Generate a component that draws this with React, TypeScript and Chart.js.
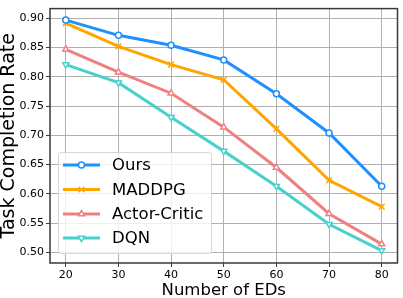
import React, { useEffect, useRef } from "react";
import { Chart, registerables } from "chart.js";
import { drawPoint } from "chart.js/helpers";

Chart.register(...registerables);

const categories = [20, 30, 40, 50, 60, 70, 80];
const oursValues = [0.897, 0.871, 0.854, 0.829, 0.771, 0.704, 0.613];
const maddpgValues = [0.892, 0.852, 0.821, 0.795, 0.711, 0.623, 0.578];
const actorCriticValues = [0.847, 0.808, 0.772, 0.714, 0.645, 0.566, 0.514];
const dqnValues = [0.821, 0.79, 0.731, 0.673, 0.613, 0.548, 0.503];
const seriesNames = ["Ours", "MADDPG", "Actor-Critic", "DQN"];
const xTicks = [20, 30, 40, 50, 60, 70, 80];
const yTicks = [0.5, 0.55, 0.6, 0.65, 0.7, 0.75, 0.8, 0.85, 0.9];

const FONT = '"DejaVu Sans", sans-serif';

const legendPlugin = {
  id: "insideLegend",
  afterDraw(chart: any) {
    const ctx = chart.ctx;
    const x0 = 58, y0 = 152, w = 153, h = 101;
    ctx.save();
    ctx.beginPath();
    if (ctx.roundRect) ctx.roundRect(x0 + 0.5, y0 + 0.5, w, h, 3);
    else ctx.rect(x0 + 0.5, y0 + 0.5, w, h);
    ctx.fillStyle = "rgba(255,255,255,0.8)";
    ctx.fill();
    ctx.strokeStyle = "#d6d6d6";
    ctx.lineWidth = 1;
    ctx.stroke();
    const rows = [165, 189.5, 214, 238];
    chart.data.datasets.forEach((ds: any, i: number) => {
      const y = rows[i];
      ctx.beginPath();
      ctx.moveTo(63, y);
      ctx.lineTo(100, y);
      ctx.strokeStyle = ds.borderColor;
      ctx.lineWidth = 3;
      ctx.stroke();
      ctx.fillStyle = "#ffffff";
      ctx.strokeStyle = ds.borderColor;
      ctx.lineWidth = ds.pointBorderWidth;
      drawPoint(ctx, { pointStyle: ds.pointStyle, rotation: ds.pointRotation || 0, radius: ds.pointRadius, borderWidth: ds.pointBorderWidth }, 81.5, y);
      ctx.fillStyle = "#000";
      ctx.font = `16.5px ${FONT}`;
      ctx.textBaseline = "middle";
      ctx.textAlign = "left";
      ctx.fillText(ds.label, 112, y + 1);
    });
    ctx.restore();
  },
};

const framePlugin = {
  id: "frame",
  afterDatasetsDraw(chart: any) {
    const { ctx, chartArea } = chart;
    ctx.save();
    ctx.strokeStyle = "#3a3a3a";
    ctx.lineWidth = 1.5;
    ctx.strokeRect(chartArea.left, chartArea.top, chartArea.right - chartArea.left, chartArea.bottom - chartArea.top);
    ctx.restore();
  },
};

function toPoints(vals: number[]) {
  return categories.map((c, i) => ({ x: c, y: vals[i] }));
}

export default function App() {
  const ref = useRef<HTMLCanvasElement | null>(null);
  useEffect(() => {
    document.body.style.margin = "0";
    const colors = ["#1E90FF", "#FFA500", "#F08080", "#48D1CC"];
    const styles = ["circle", "crossRot", "triangle", "triangle"];
    const rots = [0, 0, 0, 180];
    const radii = [3, 4, 3.5, 3.5];
    const vals = [oursValues, maddpgValues, actorCriticValues, dqnValues];
    const chart = new Chart(ref.current as HTMLCanvasElement, {
      type: "line",
      data: {
        datasets: vals.map((v, i) => ({
          label: seriesNames[i],
          data: toPoints(v),
          borderColor: colors[i],
          backgroundColor: colors[i],
          borderWidth: 3,
          pointStyle: styles[i] as any,
          pointRotation: rots[i],
          pointRadius: radii[i],
          pointBorderWidth: 1.5,
          pointBackgroundColor: "#ffffff",
          pointBorderColor: colors[i],
          tension: 0,
        })),
      },
      options: {
        animation: false,
        responsive: false,
        maintainAspectRatio: false,
        layout: { padding: { top: 2, right: 2, left: 0, bottom: 0 } },
        plugins: { legend: { display: false }, tooltip: { enabled: false } },
        scales: {
          x: {
            type: "linear",
            min: 17,
            max: 83,
            afterBuildTicks: (s: any) => {
              s.ticks = xTicks.map((v) => ({ value: v }));
            },
            afterFit: (s: any) => {
              s.height = 35;
            },
            ticks: {
              font: { family: FONT, size: 11 },
              color: "#000",
              padding: 2,
              maxRotation: 0,
              callback: (v: any) => String(v),
            },
            grid: { color: "#b0b0b0", lineWidth: 1, tickLength: 4, tickColor: "#3a3a3a" },
            border: { display: false },
            title: {
              display: true,
              text: "Number of EDs",
              font: { family: FONT, size: 16.5, lineHeight: 1 },
              color: "#000",
              padding: { top: 0, bottom: -1 },
            },
          },
          y: {
            type: "linear",
            min: 0.4817,
            max: 0.9167,
            afterBuildTicks: (s: any) => {
              s.ticks = yTicks.map((v) => ({ value: v }));
            },
            afterFit: (s: any) => {
              s.width = 50;
            },
            ticks: {
              font: { family: FONT, size: 11 },
              color: "#000",
              padding: 2,
              callback: (v: any) => Number(v).toFixed(2),
            },
            grid: { color: "#b0b0b0", lineWidth: 1, tickLength: 4, tickColor: "#3a3a3a" },
            border: { display: false },
            title: {
              display: true,
              text: "Task Completion Rate",
              font: { family: FONT, size: 19, lineHeight: 1 },
              color: "#000",
              padding: { top: 0, bottom: 0 },
            },
          },
        },
      },
      plugins: [framePlugin, legendPlugin],
    });
    return () => chart.destroy();
  }, []);
  return (
    <div style={{ width: 403, height: 298 }}>
      <canvas ref={ref} width={403} height={298} style={{ display: "block", width: 403, height: 298 }} />
    </div>
  );
}
